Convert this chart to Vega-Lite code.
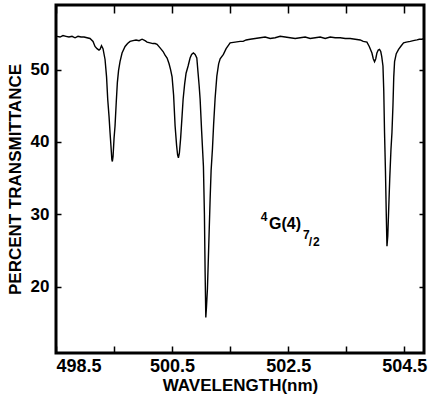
{
  "$schema": "https://vega.github.io/schema/vega-lite/v6.json",
  "width": 368,
  "height": 348,
  "autosize": {"type": "none"},
  "padding": {"left": 56, "top": 5, "right": 6, "bottom": 50},
  "background": "white",
  "config": {
    "view": {"stroke": "black", "strokeWidth": 3},
    "axis": {"grid": false, "domain": false}
  },
  "data": {"values": [
      {"wavelength": 498.517, "transmittance": 54.6},
      {"wavelength": 498.569, "transmittance": 54.5},
      {"wavelength": 498.621, "transmittance": 54.7},
      {"wavelength": 498.672, "transmittance": 54.6},
      {"wavelength": 498.724, "transmittance": 54.5},
      {"wavelength": 498.776, "transmittance": 54.6},
      {"wavelength": 498.828, "transmittance": 54.4},
      {"wavelength": 498.879, "transmittance": 54.6},
      {"wavelength": 498.931, "transmittance": 54.5},
      {"wavelength": 498.983, "transmittance": 54.5},
      {"wavelength": 499.034, "transmittance": 54.4},
      {"wavelength": 499.086, "transmittance": 54.3},
      {"wavelength": 499.138, "transmittance": 53.9},
      {"wavelength": 499.172, "transmittance": 53.2},
      {"wavelength": 499.207, "transmittance": 52.9},
      {"wavelength": 499.241, "transmittance": 52.7},
      {"wavelength": 499.259, "transmittance": 52.8},
      {"wavelength": 499.284, "transmittance": 53.3},
      {"wavelength": 499.310, "transmittance": 52.9},
      {"wavelength": 499.345, "transmittance": 51.4},
      {"wavelength": 499.371, "transmittance": 49.0},
      {"wavelength": 499.391, "transmittance": 45.9},
      {"wavelength": 499.414, "transmittance": 43.5},
      {"wavelength": 499.431, "transmittance": 41.3},
      {"wavelength": 499.448, "transmittance": 39.3},
      {"wavelength": 499.462, "transmittance": 37.6},
      {"wavelength": 499.471, "transmittance": 37.3},
      {"wavelength": 499.483, "transmittance": 38.0},
      {"wavelength": 499.500, "transmittance": 40.5},
      {"wavelength": 499.517, "transmittance": 42.2},
      {"wavelength": 499.538, "transmittance": 45.5},
      {"wavelength": 499.557, "transmittance": 48.2},
      {"wavelength": 499.578, "transmittance": 49.9},
      {"wavelength": 499.603, "transmittance": 51.1},
      {"wavelength": 499.638, "transmittance": 52.3},
      {"wavelength": 499.690, "transmittance": 53.2},
      {"wavelength": 499.733, "transmittance": 53.6},
      {"wavelength": 499.776, "transmittance": 53.9},
      {"wavelength": 499.828, "transmittance": 54.0},
      {"wavelength": 499.879, "transmittance": 54.1},
      {"wavelength": 499.931, "transmittance": 54.0},
      {"wavelength": 499.983, "transmittance": 54.2},
      {"wavelength": 500.034, "transmittance": 54.0},
      {"wavelength": 500.069, "transmittance": 53.8},
      {"wavelength": 500.121, "transmittance": 53.7},
      {"wavelength": 500.172, "transmittance": 53.6},
      {"wavelength": 500.207, "transmittance": 53.6},
      {"wavelength": 500.241, "transmittance": 53.5},
      {"wavelength": 500.293, "transmittance": 53.0},
      {"wavelength": 500.345, "transmittance": 52.5},
      {"wavelength": 500.379, "transmittance": 52.0},
      {"wavelength": 500.414, "transmittance": 51.6},
      {"wavelength": 500.448, "transmittance": 50.8},
      {"wavelength": 500.474, "transmittance": 50.0},
      {"wavelength": 500.500, "transmittance": 49.0},
      {"wavelength": 500.526, "transmittance": 46.5},
      {"wavelength": 500.552, "transmittance": 42.2},
      {"wavelength": 500.578, "transmittance": 39.5},
      {"wavelength": 500.595, "transmittance": 38.2},
      {"wavelength": 500.609, "transmittance": 37.8},
      {"wavelength": 500.626, "transmittance": 38.5},
      {"wavelength": 500.647, "transmittance": 40.5},
      {"wavelength": 500.672, "transmittance": 43.6},
      {"wavelength": 500.690, "transmittance": 45.9},
      {"wavelength": 500.716, "transmittance": 48.0},
      {"wavelength": 500.741, "transmittance": 49.5},
      {"wavelength": 500.776, "transmittance": 50.5},
      {"wavelength": 500.810, "transmittance": 51.6},
      {"wavelength": 500.836, "transmittance": 52.1},
      {"wavelength": 500.867, "transmittance": 52.3},
      {"wavelength": 500.897, "transmittance": 52.1},
      {"wavelength": 500.926, "transmittance": 51.6},
      {"wavelength": 500.948, "transmittance": 49.5},
      {"wavelength": 500.966, "transmittance": 47.8},
      {"wavelength": 500.983, "transmittance": 45.9},
      {"wavelength": 501.009, "transmittance": 41.5},
      {"wavelength": 501.040, "transmittance": 36.6},
      {"wavelength": 501.057, "transmittance": 30.0},
      {"wavelength": 501.069, "transmittance": 22.0},
      {"wavelength": 501.081, "transmittance": 15.75},
      {"wavelength": 501.091, "transmittance": 17.0},
      {"wavelength": 501.109, "transmittance": 19.7},
      {"wavelength": 501.129, "transmittance": 25.0},
      {"wavelength": 501.155, "transmittance": 32.0},
      {"wavelength": 501.172, "transmittance": 36.0},
      {"wavelength": 501.195, "transmittance": 39.0},
      {"wavelength": 501.216, "transmittance": 42.5},
      {"wavelength": 501.241, "transmittance": 46.0},
      {"wavelength": 501.271, "transmittance": 49.1},
      {"wavelength": 501.302, "transmittance": 50.8},
      {"wavelength": 501.328, "transmittance": 51.5},
      {"wavelength": 501.384, "transmittance": 52.1},
      {"wavelength": 501.431, "transmittance": 52.9},
      {"wavelength": 501.500, "transmittance": 53.7},
      {"wavelength": 501.586, "transmittance": 53.8},
      {"wavelength": 501.672, "transmittance": 53.9},
      {"wavelength": 501.724, "transmittance": 53.9},
      {"wavelength": 501.776, "transmittance": 54.1},
      {"wavelength": 501.845, "transmittance": 54.2},
      {"wavelength": 501.931, "transmittance": 54.3},
      {"wavelength": 502.017, "transmittance": 54.4},
      {"wavelength": 502.103, "transmittance": 54.5},
      {"wavelength": 502.190, "transmittance": 54.3},
      {"wavelength": 502.276, "transmittance": 54.4},
      {"wavelength": 502.362, "transmittance": 54.6},
      {"wavelength": 502.448, "transmittance": 54.5},
      {"wavelength": 502.534, "transmittance": 54.4},
      {"wavelength": 502.621, "transmittance": 54.3},
      {"wavelength": 502.707, "transmittance": 54.4},
      {"wavelength": 502.793, "transmittance": 54.5},
      {"wavelength": 502.879, "transmittance": 54.3},
      {"wavelength": 502.966, "transmittance": 54.4},
      {"wavelength": 503.052, "transmittance": 54.5},
      {"wavelength": 503.138, "transmittance": 54.3},
      {"wavelength": 503.224, "transmittance": 54.5},
      {"wavelength": 503.310, "transmittance": 54.4},
      {"wavelength": 503.397, "transmittance": 54.4},
      {"wavelength": 503.483, "transmittance": 54.3},
      {"wavelength": 503.569, "transmittance": 54.3},
      {"wavelength": 503.655, "transmittance": 54.2},
      {"wavelength": 503.741, "transmittance": 54.1},
      {"wavelength": 503.793, "transmittance": 53.9},
      {"wavelength": 503.857, "transmittance": 53.8},
      {"wavelength": 503.897, "transmittance": 53.2},
      {"wavelength": 503.943, "transmittance": 52.3},
      {"wavelength": 503.966, "transmittance": 51.5},
      {"wavelength": 503.988, "transmittance": 51.1},
      {"wavelength": 504.009, "transmittance": 51.5},
      {"wavelength": 504.029, "transmittance": 52.3},
      {"wavelength": 504.052, "transmittance": 52.7},
      {"wavelength": 504.074, "transmittance": 52.8},
      {"wavelength": 504.095, "transmittance": 52.5},
      {"wavelength": 504.112, "transmittance": 51.8},
      {"wavelength": 504.133, "transmittance": 50.5},
      {"wavelength": 504.147, "transmittance": 47.0},
      {"wavelength": 504.160, "transmittance": 41.3},
      {"wavelength": 504.176, "transmittance": 36.0},
      {"wavelength": 504.190, "transmittance": 30.0},
      {"wavelength": 504.202, "transmittance": 25.6},
      {"wavelength": 504.216, "transmittance": 27.0},
      {"wavelength": 504.233, "transmittance": 31.0},
      {"wavelength": 504.250, "transmittance": 35.0},
      {"wavelength": 504.271, "transmittance": 39.0},
      {"wavelength": 504.288, "transmittance": 41.3},
      {"wavelength": 504.305, "transmittance": 45.0},
      {"wavelength": 504.319, "transmittance": 49.0},
      {"wavelength": 504.333, "transmittance": 51.1},
      {"wavelength": 504.362, "transmittance": 52.2},
      {"wavelength": 504.402, "transmittance": 52.8},
      {"wavelength": 504.448, "transmittance": 53.3},
      {"wavelength": 504.488, "transmittance": 53.7},
      {"wavelength": 504.534, "transmittance": 53.8},
      {"wavelength": 504.603, "transmittance": 53.9},
      {"wavelength": 504.655, "transmittance": 54.0},
      {"wavelength": 504.719, "transmittance": 54.1},
      {"wavelength": 504.759, "transmittance": 54.2},
      {"wavelength": 504.805, "transmittance": 54.2},
      {"wavelength": 504.845, "transmittance": 54.3}
  ]},
  "layer": [
    {
      "mark": {"type": "line", "color": "black", "strokeWidth": 1.4},
      "encoding": {
        "x": {
          "field": "wavelength", "type": "quantitative",
          "scale": {"domain": [498.5, 504.84], "nice": false, "zero": false},
          "axis": {
            "orient": "bottom",
            "values": [498.5, 499.5, 500.5, 501.5, 502.5, 503.5, 504.5],
            "tickSize": -7, "tickColor": "black", "tickWidth": 1.5,
            "labelPadding": 11, "labelFontSize": 18, "labelFont": "Liberation Sans", "labelFontWeight": "bold", "labelColor": "black",
            "labelExpr": "(datum.value == 498.5 || datum.value == 500.5 || datum.value == 502.5 || datum.value == 504.5) ? format(datum.value, '.1f') : ''",
            "title": "WAVELENGTH(nm)", "titlePadding": 2, "titleFont": "Liberation Sans", "titleFontWeight": "bold", "titleColor": "black", "titleFontSize": 17
          }
        },
        "y": {
          "field": "transmittance", "type": "quantitative",
          "scale": {"domain": [10.83, 58.93], "nice": false, "zero": false},
          "axis": {
            "orient": "left",
            "values": [20, 30, 40, 50],
            "tickSize": -5, "tickColor": "black", "tickWidth": 1.5,
            "labelPadding": 12, "labelFontSize": 17, "labelFont": "Liberation Sans", "labelFontWeight": "bold", "labelColor": "black",
            "title": "PERCENT TRANSMITTANCE", "titlePadding": 6, "titleFont": "Liberation Sans", "titleFontWeight": "bold", "titleColor": "black", "titleFontSize": 17
          }
        }
      }
    },
    {
      "mark": {"type": "line", "opacity": 0},
      "encoding": {
        "x": {
          "field": "wavelength", "type": "quantitative",
          "scale": {"domain": [498.5, 504.84], "nice": false, "zero": false},
          "axis": {"orient": "top", "values": [498.5, 499.5, 500.5, 501.5, 502.5, 503.5, 504.5], "tickSize": -8, "tickColor": "black", "tickWidth": 1.5, "labels": false, "title": null}
        },
        "y": {
          "field": "transmittance", "type": "quantitative",
          "scale": {"domain": [10.83, 58.93], "nice": false, "zero": false},
          "axis": {"orient": "right", "values": [20, 30, 40, 50], "tickSize": -5, "tickColor": "black", "tickWidth": 1.5, "labels": false, "title": null}
        }
      }
    },
    {
      "data": {"values": [{"wavelength": 502.171, "transmittance": 28.0, "text": "G(4)"}]},
      "mark": {"type": "text", "font": "Liberation Sans", "fontWeight": "bold", "fontSize": 16, "align": "left", "baseline": "alphabetic", "color": "black"},
      "encoding": {
        "x": {"field": "wavelength", "type": "quantitative", "axis": {"labels": false, "ticks": false, "domain": false, "grid": false, "title": null}},
        "y": {"field": "transmittance", "type": "quantitative", "axis": {"labels": false, "ticks": false, "domain": false, "grid": false, "title": null}},
        "text": {"field": "text"}
      }
    },
    {
      "data": {"values": [
        {"wavelength": 502.028, "transmittance": 29.06, "text": "4"},
        {"wavelength": 502.756, "transmittance": 26.63, "text": "7"},
        {"wavelength": 502.855, "transmittance": 25.65, "text": "/"},
        {"wavelength": 502.929, "transmittance": 25.6, "text": "2"}
      ]},
      "mark": {"type": "text", "font": "Liberation Sans", "fontWeight": "bold", "fontSize": 12, "align": "left", "baseline": "alphabetic", "color": "black"},
      "encoding": {
        "x": {"field": "wavelength", "type": "quantitative", "axis": {"labels": false, "ticks": false, "domain": false, "grid": false, "title": null}},
        "y": {"field": "transmittance", "type": "quantitative", "axis": {"labels": false, "ticks": false, "domain": false, "grid": false, "title": null}},
        "text": {"field": "text"}
      }
    }
  ],
  "resolve": {"axis": {"x": "independent", "y": "independent"}}
}
